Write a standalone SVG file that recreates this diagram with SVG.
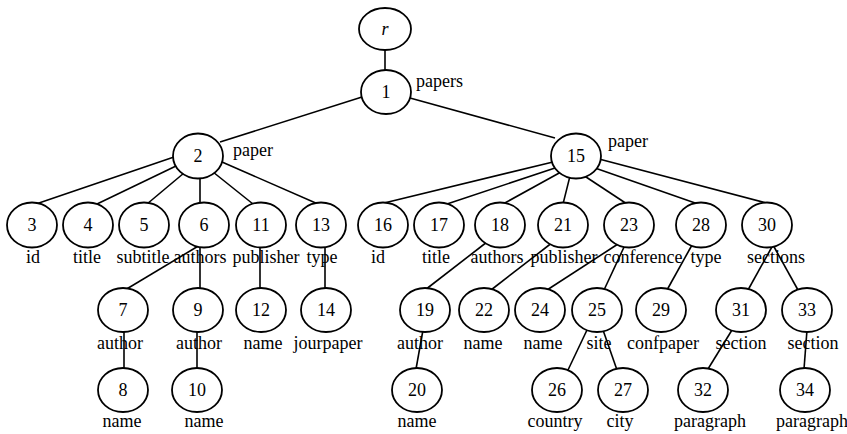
<svg xmlns="http://www.w3.org/2000/svg" width="847" height="434" viewBox="0 0 847 434">
<style>
text{font-family:'Liberation Serif','Times New Roman','DejaVu Serif',serif;font-size:18px;fill:#000}
.n ellipse{fill:#fff;stroke:#000;stroke-width:1.8}
.n text.k{text-anchor:middle}
.l{text-anchor:middle}
#edges line{stroke:#000;stroke-width:1.6}
</style>
<rect width="847" height="434" fill="#fff"/>
<g id="edges">
<line x1="385" y1="48" x2="385" y2="72"/>
<line x1="362" y1="97" x2="220" y2="142"/>
<line x1="410" y1="98" x2="555" y2="138"/>
<line x1="174" y1="157" x2="36" y2="204"/>
<line x1="176" y1="166" x2="97" y2="204"/>
<line x1="184" y1="173" x2="147" y2="204"/>
<line x1="200" y1="178" x2="200" y2="204"/>
<line x1="213" y1="172" x2="253" y2="204"/>
<line x1="222" y1="162" x2="318" y2="204"/>
<line x1="553" y1="162" x2="380" y2="204"/>
<line x1="555" y1="168" x2="447" y2="204"/>
<line x1="561" y1="172" x2="503" y2="204"/>
<line x1="570" y1="176" x2="563" y2="204"/>
<line x1="583" y1="175" x2="627" y2="204"/>
<line x1="595" y1="168" x2="698" y2="204"/>
<line x1="599" y1="159" x2="770" y2="204"/>
<line x1="200" y1="245" x2="125" y2="290"/>
<line x1="200" y1="245" x2="200" y2="290"/>
<line x1="260" y1="245" x2="260" y2="290"/>
<line x1="325" y1="245" x2="325" y2="290"/>
<line x1="487" y1="242" x2="425" y2="290"/>
<line x1="553" y1="242" x2="491" y2="290"/>
<line x1="618" y1="244" x2="547" y2="290"/>
<line x1="625" y1="245" x2="604" y2="290"/>
<line x1="692" y1="245" x2="667" y2="290"/>
<line x1="773" y1="245" x2="748" y2="290"/>
<line x1="773" y1="245" x2="798" y2="290"/>
<line x1="124" y1="330" x2="124" y2="369"/>
<line x1="197" y1="330" x2="197" y2="369"/>
<line x1="423" y1="330" x2="416" y2="369"/>
<line x1="587" y1="330" x2="568" y2="370"/>
<line x1="603" y1="330" x2="617" y2="370"/>
<line x1="732" y1="330" x2="708" y2="369"/>
<line x1="807" y1="330" x2="804" y2="369"/>
</g>
<g font-family="Liberation Serif, Times New Roman, DejaVu Serif, serif" font-size="18">
<g class="n" id="nr"><ellipse cx="385" cy="29" rx="26" ry="21"/><text class="k" x="385" y="35" font-style="italic">r</text></g>
<g class="n" id="n1"><ellipse cx="386" cy="92" rx="25" ry="22"/><text class="k" x="386" y="98">1</text><text x="416" y="87">papers</text></g>
<g class="n" id="n2"><ellipse cx="198" cy="156" rx="25" ry="22.5"/><text class="k" x="198" y="162">2</text><text x="233" y="156">paper</text></g>
<g class="n" id="n15"><ellipse cx="576" cy="156" rx="25" ry="22.5"/><text class="k" x="576" y="162">15</text><text x="608" y="147">paper</text></g>
<g class="n" id="n3"><ellipse cx="32" cy="225" rx="25" ry="22.5"/><text class="k" x="32" y="231">3</text><text class="l" x="33" y="263">id</text></g>
<g class="n" id="n4"><ellipse cx="88" cy="225" rx="25" ry="22.5"/><text class="k" x="88" y="231">4</text><text class="l" x="87" y="263">title</text></g>
<g class="n" id="n5"><ellipse cx="144" cy="225" rx="25" ry="22.5"/><text class="k" x="144" y="231">5</text><text class="l" x="143" y="263">subtitle</text></g>
<g class="n" id="n6"><ellipse cx="204" cy="225" rx="25" ry="22.5"/><text class="k" x="204" y="231">6</text><text class="l" x="200" y="263">authors</text></g>
<g class="n" id="n11"><ellipse cx="261" cy="225" rx="25" ry="22.5"/><text class="k" x="261" y="231">11</text><text class="l" x="266" y="263">publisher</text></g>
<g class="n" id="n13"><ellipse cx="321" cy="225" rx="25" ry="22.5"/><text class="k" x="321" y="231">13</text><text class="l" x="322" y="263">type</text></g>
<g class="n" id="n16"><ellipse cx="383" cy="225" rx="25" ry="22.5"/><text class="k" x="383" y="231">16</text><text class="l" x="378" y="263">id</text></g>
<g class="n" id="n17"><ellipse cx="439" cy="225" rx="25" ry="22.5"/><text class="k" x="439" y="231">17</text><text class="l" x="436" y="263">title</text></g>
<g class="n" id="n18"><ellipse cx="500" cy="225" rx="25" ry="22.5"/><text class="k" x="500" y="231">18</text><text class="l" x="497" y="263">authors</text></g>
<g class="n" id="n21"><ellipse cx="563" cy="225" rx="25" ry="22.5"/><text class="k" x="563" y="231">21</text><text class="l" x="564" y="263">publisher</text></g>
<g class="n" id="n23"><ellipse cx="629" cy="225" rx="25" ry="22.5"/><text class="k" x="629" y="231">23</text><text class="l" x="643" y="263">conference</text></g>
<g class="n" id="n28"><ellipse cx="701" cy="225" rx="25" ry="22.5"/><text class="k" x="701" y="231">28</text><text class="l" x="706" y="263">type</text></g>
<g class="n" id="n30"><ellipse cx="767" cy="225" rx="25" ry="22.5"/><text class="k" x="767" y="231">30</text><text class="l" x="776" y="263">sections</text></g>
<g class="n" id="n7"><ellipse cx="123" cy="310" rx="25" ry="22"/><text class="k" x="123" y="316">7</text><text class="l" x="120" y="349">author</text></g>
<g class="n" id="n9"><ellipse cx="198" cy="310" rx="25" ry="22"/><text class="k" x="198" y="316">9</text><text class="l" x="199" y="349">author</text></g>
<g class="n" id="n12"><ellipse cx="261" cy="310" rx="25" ry="22"/><text class="k" x="261" y="316">12</text><text class="l" x="263" y="349">name</text></g>
<g class="n" id="n14"><ellipse cx="326" cy="310" rx="25" ry="22"/><text class="k" x="326" y="316">14</text><text class="l" x="328" y="349">jourpaper</text></g>
<g class="n" id="n19"><ellipse cx="425" cy="310" rx="25" ry="22"/><text class="k" x="425" y="316">19</text><text class="l" x="420" y="349">author</text></g>
<g class="n" id="n22"><ellipse cx="484" cy="310" rx="25" ry="22"/><text class="k" x="484" y="316">22</text><text class="l" x="483" y="349">name</text></g>
<g class="n" id="n24"><ellipse cx="540" cy="310" rx="25" ry="22"/><text class="k" x="540" y="316">24</text><text class="l" x="543" y="349">name</text></g>
<g class="n" id="n25"><ellipse cx="597" cy="310" rx="25" ry="22"/><text class="k" x="597" y="316">25</text><text class="l" x="599" y="349">site</text></g>
<g class="n" id="n29"><ellipse cx="661" cy="310" rx="25" ry="22"/><text class="k" x="661" y="316">29</text><text class="l" x="663" y="349">confpaper</text></g>
<g class="n" id="n31"><ellipse cx="741" cy="310" rx="25" ry="22"/><text class="k" x="741" y="316">31</text><text class="l" x="741" y="349">section</text></g>
<g class="n" id="n33"><ellipse cx="807" cy="310" rx="25" ry="22"/><text class="k" x="807" y="316">33</text><text class="l" x="813" y="349">section</text></g>
<g class="n" id="n8"><ellipse cx="123" cy="390" rx="25" ry="22"/><text class="k" x="123" y="396">8</text><text class="l" x="122" y="427">name</text></g>
<g class="n" id="n10"><ellipse cx="197" cy="390" rx="25" ry="22"/><text class="k" x="197" y="396">10</text><text class="l" x="204" y="427">name</text></g>
<g class="n" id="n20"><ellipse cx="417" cy="390" rx="25" ry="22"/><text class="k" x="417" y="396">20</text><text class="l" x="417" y="427">name</text></g>
<g class="n" id="n26"><ellipse cx="557" cy="390" rx="25" ry="22"/><text class="k" x="557" y="396">26</text><text class="l" x="555" y="427">country</text></g>
<g class="n" id="n27"><ellipse cx="623" cy="390" rx="25" ry="22"/><text class="k" x="623" y="396">27</text><text class="l" x="620" y="427">city</text></g>
<g class="n" id="n32"><ellipse cx="703" cy="390" rx="25" ry="22"/><text class="k" x="703" y="396">32</text><text class="l" x="710" y="427">paragraph</text></g>
<g class="n" id="n34"><ellipse cx="805" cy="390" rx="25" ry="22"/><text class="k" x="805" y="396">34</text><text class="l" x="812" y="427">paragraph</text></g>
</g>
</svg>
